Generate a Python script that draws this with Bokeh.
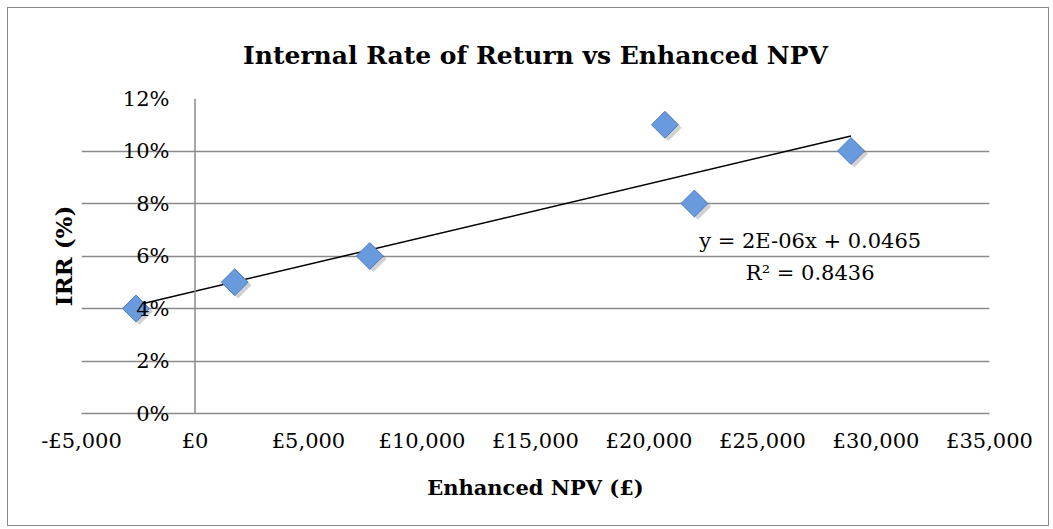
import numpy as np
from bokeh.plotting import figure
from bokeh.models import LinearAxis, FixedTicker, Label, Range1d, ColumnDataSource, Span, Title
from bokeh.transform import dodge
from bokeh.embed import file_html
from bokeh.resources import INLINE

# ---- data ----
npv = [-2600, 1750, 7700, 20700, 22000, 28900]
irr = [0.04, 0.05, 0.06, 0.11, 0.08, 0.10]

x_ticks = [-5000, 0, 5000, 10000, 15000, 20000, 25000, 30000, 35000]
x_tick_labels = ["-£5,000", "£0", "£5,000", "£10,000", "£15,000", "£20,000",
                 "£25,000", "£30,000", "£35,000"]
y_ticks = [0.0, 0.02, 0.04, 0.06, 0.08, 0.10, 0.12]
y_tick_labels = ["0%", "2%", "4%", "6%", "8%", "10%", "12%"]

title_text = "Internal Rate of Return vs Enhanced NPV"
x_title = "Enhanced NPV (£)"
y_title = "IRR (%)"

# linear trendline (least squares), drawn between data extremes
slope, intercept = np.polyfit(npv, irr, 1)
trend_x = [min(npv), max(npv)]
trend_y = [slope * v + intercept for v in trend_x]
eq_text = "y = 2E-06x + 0.0465"
r2_text = "R² = 0.8436"

SERIF = "DejaVu Serif"
GRID = "#8a8a8a"

p = figure(width=1042, height=519, output_backend="svg", toolbar_location=None,
           x_range=Range1d(-5000, 35000), y_range=Range1d(0, 0.12),
           y_axis_location=None, min_border_left=73, min_border_right=61,
           min_border_top=90, min_border_bottom=114)
p.styles = {"border": "1px solid #8a8a8a", "margin-left": "7px", "margin-top": "7px"}
p.outline_line_color = None
p.background_fill_color = "white"
p.border_fill_color = "white"

# title
p.title.text = title_text
p.title.align = "center"
p.title.text_font = SERIF
p.title.text_font_style = "bold"
p.title.text_font_size = "25px"
p.title.text_color = "black"
p.title.standoff = 58

# x axis
xa = p.xaxis[0]
xa.ticker = FixedTicker(ticks=x_ticks)
xa.major_label_overrides = {t: l for t, l in zip(x_ticks, x_tick_labels)}
xa.major_tick_line_color = None
xa.minor_tick_line_color = None
xa.axis_line_color = GRID
xa.axis_line_width = 1.5
xa.major_label_text_font = SERIF
xa.major_label_text_font_size = "21px"
xa.major_label_text_color = "black"
xa.major_label_standoff = 9
xa.axis_label = x_title
xa.axis_label_text_font = SERIF
xa.axis_label_text_font_style = "bold"
xa.axis_label_text_font_size = "21px"
xa.axis_label_text_color = "black"
xa.axis_label_standoff = 19

# y axis labels: sit just left of the vertical axis at x = 0
ya = LinearAxis(ticker=FixedTicker(ticks=y_ticks))
ya.major_label_overrides = {t: l for t, l in zip(y_ticks, y_tick_labels)}
ya.major_tick_line_color = None
ya.minor_tick_line_color = None
ya.axis_line_color = None
ya.major_label_text_font = SERIF
ya.major_label_text_font_size = "21px"
ya.major_label_text_color = "black"
ya.major_label_standoff = -94
p.add_layout(ya, "left")

# y title on the left side
p.add_layout(Title(text=y_title, align="center", text_font=SERIF,
                   text_font_style="bold", text_font_size="23px",
                   text_color="black", standoff=10), "left")

# vertical axis line at x = 0
p.add_layout(Span(location=0, dimension="height", line_color=GRID, line_width=1.5))

# grids
p.xgrid.visible = False
p.ygrid.ticker = FixedTicker(ticks=y_ticks)
p.ygrid.grid_line_color = GRID
p.ygrid.grid_line_width = 1.5

# trendline
p.line(trend_x, trend_y, line_color="black", line_width=1.5)

# points (soft shadow + diamond)
src = ColumnDataSource(dict(x=npv, y=irr))
p.scatter(dodge("x", 150), dodge("y", -0.0011), source=src, marker="square",
          angle=np.pi / 4, size=19, fill_color="#000000", fill_alpha=0.18,
          line_color=None)
p.scatter("x", "y", source=src, marker="square", angle=np.pi / 4, size=19,
          fill_color="#6a9ade", line_color="#4a7cbf", line_width=1)

# equation
p.add_layout(Label(x=27100, y=0.0659, text=eq_text, text_align="center",
                   text_baseline="middle", text_font=SERIF,
                   text_font_size="21px", text_color="black"))
p.add_layout(Label(x=27100, y=0.0537, text=r2_text, text_align="center",
                   text_baseline="middle", text_font=SERIF,
                   text_font_size="21px", text_color="black"))

open("out.html", "w").write(file_html(p, INLINE))
